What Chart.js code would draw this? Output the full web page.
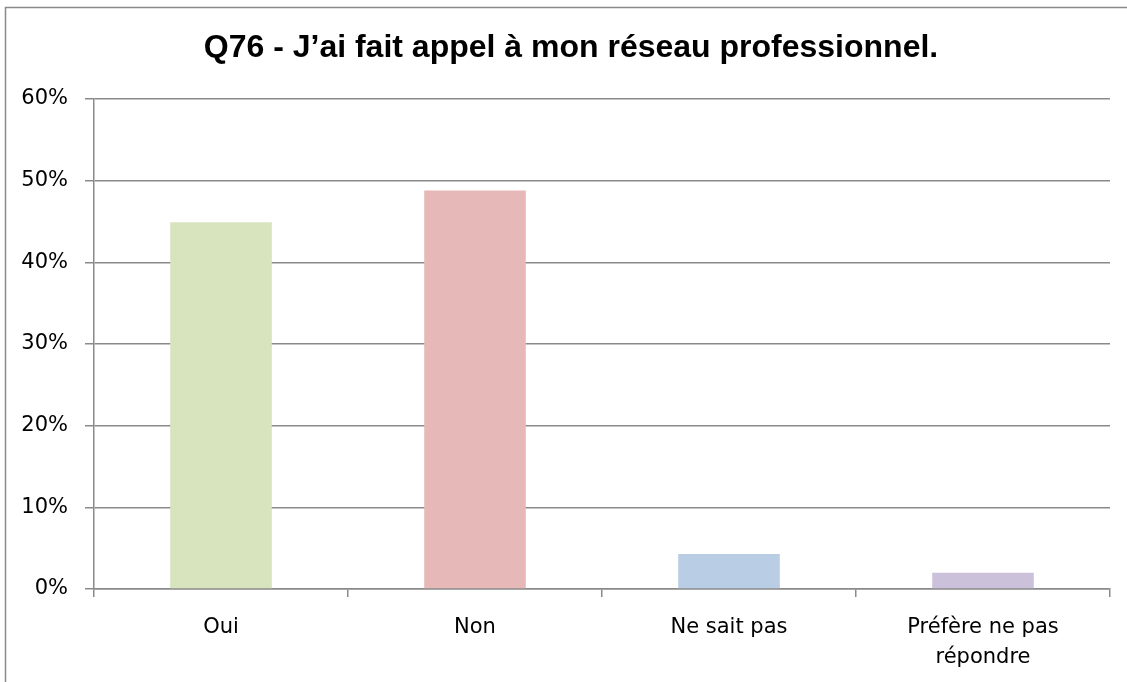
<!DOCTYPE html>
<html lang="fr">
<head>
<meta charset="utf-8">
<title>Q76</title>
<script src="https://cdn.jsdelivr.net/npm/chart.js@4.4.1/dist/chart.umd.min.js"></script>
<style>
    html, body { margin: 0; padding: 0; background: #fff; }
    #wrap { position: relative; width: 1127px; height: 682px; }
</style>
</head>
<body>
<div id="wrap"><canvas id="q76Chart" width="1127" height="682"></canvas></div>
<script>
const CATEGORIES = ['Oui', 'Non', 'Ne sait pas', ['Préfère ne pas', 'répondre']];
const SHARES = [0.449, 0.488, 0.043, 0.020];
const BAR_COLORS = ['#D7E4BD', '#E6B9B8', '#B9CDE5', '#CCC1DA'];
const Y_TICKS = [0, 0.1, 0.2, 0.3, 0.4, 0.5, 0.6];
const TITLE = 'Q76 - J\u2019ai fait appel à mon réseau professionnel.';

const LINE_GREY = '#8a8a8a';
const LABEL_FONT = { family: '"DejaVu Sans", sans-serif', size: 21, lineHeight: 1.45 };
const TITLE_FONT = 'bold 32px "Liberation Sans", Arial, sans-serif';

// outer frame (left and top edges) and the centred title of the chart object
const framePlugin = {
    id: 'frame',
    beforeDraw(chart) {
        const ctx = chart.ctx;
        ctx.save();
        ctx.strokeStyle = LINE_GREY;
        ctx.lineWidth = 1.5;
        ctx.beginPath();
        ctx.moveTo(5.5, chart.height);
        ctx.lineTo(5.5, 7.5);
        ctx.lineTo(chart.width, 7.5);
        ctx.stroke();

        ctx.fillStyle = '#000';
        ctx.font = TITLE_FONT;
        ctx.textAlign = 'center';
        ctx.textBaseline = 'alphabetic';
        ctx.fillText(TITLE, 571, 57);
        ctx.restore();
    }
};

function pct(v) {
    return Math.round(v * 100) + '%';
}

function renderChart() {
    const canvas = document.getElementById('q76Chart');
    if (!canvas || typeof Chart === 'undefined') {
        console.error('Chart.js not loaded or canvas missing');
        return;
    }
    return new Chart(canvas.getContext('2d'), {
        type: 'bar',
        data: {
            labels: CATEGORIES,
            datasets: [{
                data: SHARES,
                backgroundColor: BAR_COLORS,
                borderWidth: 0,
                categoryPercentage: 1,
                barPercentage: 0.4
            }]
        },
        options: {
            responsive: false,
            animation: false,
            layout: { padding: { left: 0, right: 17, top: 99, bottom: 0 } },
            plugins: {
                legend: { display: false },
                tooltip: { enabled: false },
                title: { display: false }
            },
            scales: {
                x: {
                    offset: true,
                    grid: {
                        offset: true,
                        drawOnChartArea: false,
                        drawTicks: true,
                        tickLength: 8,
                        color: LINE_GREY,
                        lineWidth: 1.5
                    },
                    border: { display: true, color: LINE_GREY, width: 1.5 },
                    ticks: {
                        color: '#000',
                        font: LABEL_FONT,
                        padding: 15,
                        maxRotation: 0,
                        autoSkip: false
                    },
                    afterFit(scale) { scale.height = 93; }
                },
                y: {
                    min: 0,
                    max: 0.6,
                    afterBuildTicks(scale) {
                        scale.ticks = Y_TICKS.map(v => ({ value: v }));
                    },
                    grid: {
                        color: LINE_GREY,
                        lineWidth: 1.5,
                        tickLength: 9
                    },
                    border: { display: true, color: LINE_GREY, width: 1.5 },
                    ticks: {
                        color: '#000',
                        font: LABEL_FONT,
                        padding: 17,
                        callback: v => pct(v)
                    },
                    afterFit(scale) { scale.width = 94; }
                }
            }
        },
        plugins: [framePlugin]
    });
}

window.addEventListener('load', () => {
    window._q76Chart = renderChart();
});
</script>
</body>
</html>
